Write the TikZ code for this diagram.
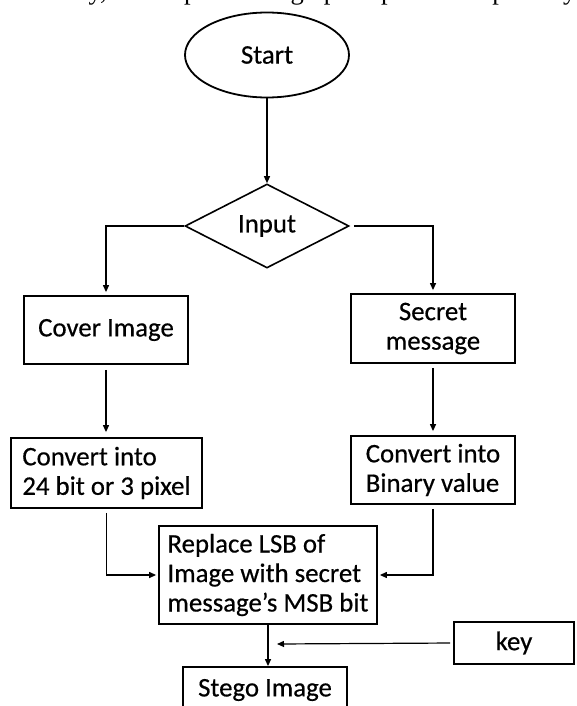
\documentclass[tikz,border=0pt]{standalone}
\usepackage{fontspec}
\setmainfont{Carlito}[FakeBold=0.5]
\newfontfamily\paperserif{Liberation Serif}
\usetikzlibrary{shapes.geometric,arrows.meta}

\tikzset{
  flowtext/.style={font=\fontsize{26.8}{29.5}\selectfont},
  box/.style={draw, line width=1.8pt, minimum width=164pt, minimum height=68pt,
    inner sep=0pt, flowtext},
  flowarrow/.style={line width=1.2pt, -{Triangle[length=7pt,width=6pt]}},
}

\begin{document}
\begin{tikzpicture}[x=1pt,y=-1pt]
  \clip (0,0) rectangle (577,706);
  \fill[white] (0,0) rectangle (577,706);

  % line of running text over the chart
  \node[anchor=base west, inner sep=0pt, font=\paperserif\fontsize{26.5}{30}\selectfont]
    (paperline) at (0,0) {ditionally, it also permits high perceptual transparency};

  % start and input
  \node[draw, ellipse, line width=1.8pt, minimum width=164pt, minimum height=85pt, flowtext]
    (start) at (267,55) {Start};
  \node[draw, diamond, line width=1.6pt, minimum width=164pt, minimum height=84pt,
    inner sep=0pt, flowtext] (input) at (267,226) {Input};

  % the two branches
  \node[box] (cover) at (106,330) {Cover Image};
  \node[box, align=center, minimum height=69pt] (secret) at (433,328.5) {Secret\\message};
  \node[box, align=left, minimum width=191pt, minimum height=70pt]
    (convleft) at (106.5,473) {Convert into\\24 bit or 3 pixel};
  \node[box, align=left] (convright) at (433,470) {Convert into\\Binary value};

  % embedding
  \node[box, align=left, minimum width=218pt, minimum height=98pt]
    (replace) at (268,575) {Replace LSB of\\Image with secret\\message’s MSB bit};
  \node[box, minimum width=120pt, minimum height=42pt] (key) at (514,643) {key};
  \node[box, minimum height=46pt] (stego) at (265,690) {Stego Image};
  \coordinate (keyend) at (277,644);

  % arrows
  \draw[flowarrow] (start.south) -- (input.north);
  \draw[flowarrow, shorten >=3pt] (input.west) -| (cover.north);
  \draw[flowarrow, shorten <=4pt, shorten >=3pt] (input.east) -| (secret.north);
  \draw[flowarrow, shorten <=5pt, shorten >=5pt] (cover.south) -- (convleft.north -| cover.south);
  \draw[flowarrow, shorten <=4pt, shorten >=4pt] (secret.south) -- (convright.north);
  \draw[flowarrow, shorten <=4pt, shorten >=2pt] (convleft.south) |- (replace.west);
  \draw[flowarrow, shorten <=4pt, shorten >=2pt] (convright.south) |- (replace.east);
  \draw[flowarrow] (replace.south) -- (stego.north -| replace.south);
  \draw[flowarrow, shorten <=3pt] (key.west) -- (keyend);
\end{tikzpicture}
\end{document}
